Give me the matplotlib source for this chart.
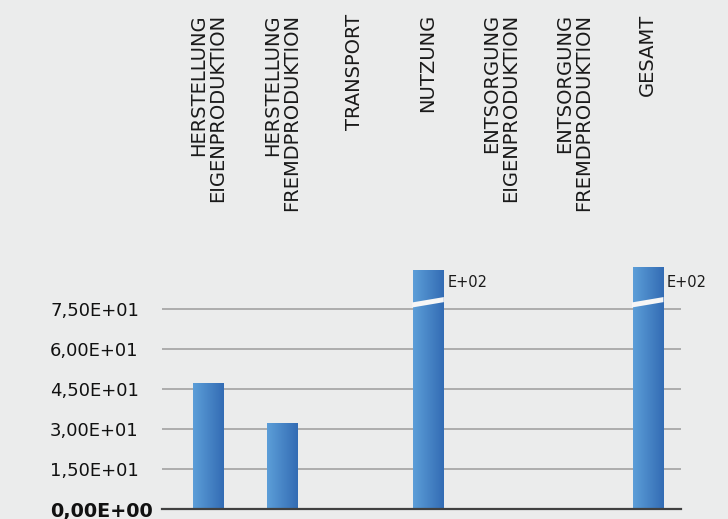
import numpy as np
import matplotlib
matplotlib.use("Agg")
import matplotlib.pyplot as plt
import matplotlib.ticker as mticker
from matplotlib.patches import Polygon
from matplotlib.transforms import blended_transform_factory

# ----------------------------------------------------------
# DATOS
# ----------------------------------------------------------
categorias = [
    "HERSTELLUNG\nEIGENPRODUKTION",
    "HERSTELLUNG\nFREMDPRODUKTION",
    "TRANSPORT",
    "NUTZUNG",
    "ENTSORGUNG\nEIGENPRODUKTION",
    "ENTSORGUNG\nFREMDPRODUKTION",
    "GESAMT",
]
valores = [46.9, 31.9, 0.0, 885.0, 0.0, 0.0, 964.0]
ticks_y = [0, 15, 30, 45, 60, 75]

# Eje cortado: por encima del corte los valores se comprimen
CORTE = 77.5
FACTOR = 0.01456

FONDO = "#ebecec"
AZUL_CLARO = np.array([0x5c, 0x9e, 0xd8]) / 255
AZUL_OSCURO = np.array([0x33, 0x6c, 0xb4]) / 255

figura = plt.figure(figsize=(7.28, 5.19), dpi=100, facecolor=FONDO)
eje = figura.add_axes([162 / 728, 10 / 519, 519 / 728, 259 / 519])
eje.set_facecolor(FONDO)

ancho = 0.41
degradado = np.linspace(0, 1, 64)[None, :, None]
colores = AZUL_CLARO + (AZUL_OSCURO - AZUL_CLARO) * degradado

for i, v in enumerate(valores):
    if v <= 0:
        continue
    cortado = v > CORTE
    alto = CORTE + (v - CORTE) * FACTOR if cortado else v
    x0, x1 = i - ancho / 2, i + ancho / 2
    eje.imshow(colores, extent=[x0, x1, 0, alto], aspect="auto",
               interpolation="bilinear", zorder=3)
    if cortado:
        # hueco inclinado del corte
        eje.add_patch(Polygon(
            [(x0 - 0.01, CORTE - 1.95), (x1 + 0.01, CORTE + 0.05),
             (x1 + 0.01, CORTE + 1.95), (x0 - 0.01, CORTE - 0.05)],
            closed=True, facecolor="#f6f6f6", edgecolor="none", zorder=4))
        eje.annotate("E+02", xy=(x1, 85.1), xytext=(3, 0),
                     textcoords="offset points", ha="left", va="center",
                     fontsize=10.5, color="#1a1a1a")

eje.set_xlim(-0.635, 6.455)
eje.set_ylim(0, 97.1)

# Etiquetas de categoría arriba, alineadas por el final del texto
trans = blended_transform_factory(eje.transData, figura.transFigure)
for i, cat in enumerate(categorias):
    eje.text(i, 1 - 14 / 519, cat, transform=trans, rotation=90,
             ha="center", va="top", multialignment="right",
             linespacing=1.0, fontsize=14, color="#1a1a1a")

eje.set_xticks([])
eje.set_yticks(ticks_y)
eje.yaxis.set_major_formatter(
    mticker.FuncFormatter(lambda v, _: f"{v:.2E}".replace(".", ",")))
eje.tick_params(axis="y", length=0, pad=80.6, labelsize=13, labelcolor="#111111")
for etiqueta in eje.get_yticklabels():
    etiqueta.set_horizontalalignment("left")
eje.get_yticklabels()[0].set_fontweight("bold")
eje.get_yticklabels()[0].set_fontsize(13.8)

eje.grid(axis="y", color="#a8a8a8", linewidth=1.3, zorder=0)
eje.set_axisbelow(True)
for lado in eje.spines.values():
    lado.set_visible(False)
eje.axhline(0, color="#404040", linewidth=1.6, zorder=5, clip_on=False)

plt.savefig("out.png", dpi=100, facecolor=FONDO)
